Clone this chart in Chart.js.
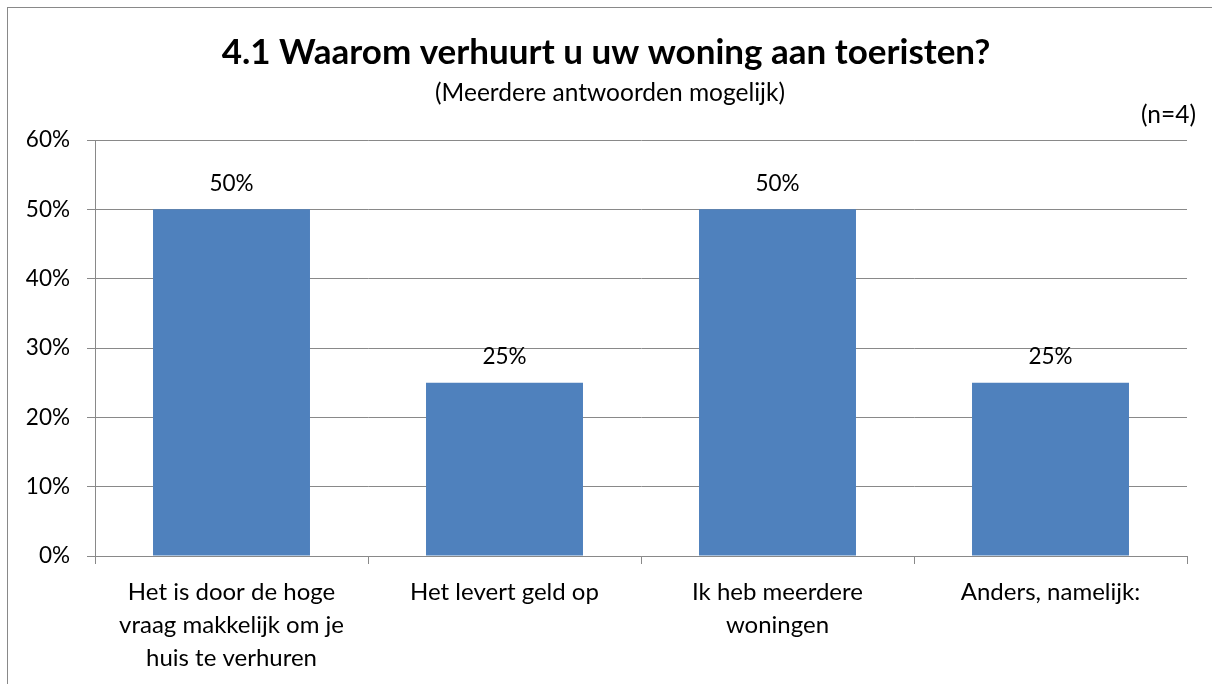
<!DOCTYPE html>
<html>
<head>
<meta charset="utf-8">
<script src="https://cdn.jsdelivr.net/npm/chart.js@4.4.0/dist/chart.umd.min.js"></script>
<style>
  html, body { margin: 0; padding: 0; background: #fff; overflow: hidden; }
  #wrap { width: 1212px; height: 684px; position: relative; }
  canvas { display: block; }
</style>
</head>
<body>
<div id="wrap"><canvas id="myChart" width="1212" height="684"></canvas></div>
<script>
// chart data
const categories = [
  ['Het is door de hoge', 'vraag makkelijk om je', 'huis te verhuren'],
  'Het levert geld op',
  ['Ik heb meerdere', 'woningen'],
  'Anders, namelijk:'
];
const percentages = [50, 25, 50, 25];
const yTicks = [0, 10, 20, 30, 40, 50, 60];

const titleText = '4.1 Waarom verhuurt u uw woning aan toeristen?';
const subtitleText = '(Meerdere antwoorden mogelijk)';
const nText = '(n=4)';

const FONT = 'Lato, "Liberation Sans", sans-serif';
const GRID = '#898989';

// title, subtitle, n and the outer frame
const headerPlugin = {
  id: 'header',
  afterDraw(chart) {
    const ctx = chart.ctx;
    ctx.save();
    ctx.strokeStyle = GRID;
    ctx.lineWidth = 1;
    ctx.strokeRect(7.5, 7.5, 1220, 700);
    ctx.fillStyle = '#000';
    ctx.textAlign = 'center';
    ctx.textBaseline = 'middle';
    ctx.font = 'bold 35px ' + FONT;
    ctx.fillText(titleText, 606, 53);
    ctx.font = '24.5px ' + FONT;
    ctx.fillText(subtitleText, 610, 93);
    ctx.textAlign = 'right';
    ctx.fillText(nText, 1196, 115);
    ctx.restore();
  }
};

// value labels on top of the bars
const valueLabels = {
  id: 'valueLabels',
  afterDatasetsDraw(chart) {
    const ctx = chart.ctx;
    const meta = chart.getDatasetMeta(0);
    ctx.save();
    ctx.fillStyle = '#000';
    ctx.font = '22.5px ' + FONT;
    ctx.textAlign = 'center';
    ctx.textBaseline = 'middle';
    meta.data.forEach((bar, i) => {
      ctx.fillText(percentages[i] + '%', bar.x, bar.y - 26);
    });
    ctx.restore();
  }
};

const ctx = document.getElementById('myChart').getContext('2d');
const chart = new Chart(ctx, {
  type: 'bar',
  data: {
    labels: categories,
    datasets: [{
      data: percentages,
      backgroundColor: '#4F81BD',
      borderWidth: 0,
      categoryPercentage: 1,
      barPercentage: 0.575
    }]
  },
  options: {
    responsive: false,
    animation: false,
    layout: { padding: { top: 140, right: 25, left: 0, bottom: 0 } },
    plugins: {
      legend: { display: false },
      tooltip: { enabled: false }
    },
    scales: {
      x: {
        offset: true,
        grid: {
          offset: true,
          drawOnChartArea: false,
          drawTicks: true,
          tickLength: 8,
          color: GRID
        },
        border: { color: GRID },
        ticks: {
          color: '#000',
          font: { family: FONT, size: 24, lineHeight: 1.375 },
          padding: 12,
          maxRotation: 0,
          autoSkip: false
        },
        afterFit(scale) { scale.height = 128; }
      },
      y: {
        min: 0,
        max: 60,
        afterBuildTicks(scale) { scale.ticks = yTicks.map(v => ({ value: v })); },
        grid: { color: GRID, tickLength: 8 },
        border: { color: GRID },
        ticks: {
          color: '#000',
          font: { family: FONT, size: 22.5 },
          padding: 17,
          callback: v => v + '%'
        },
        afterFit(scale) { scale.width = 95; }
      }
    }
  },
  plugins: [headerPlugin, valueLabels]
});
</script>
</body>
</html>
